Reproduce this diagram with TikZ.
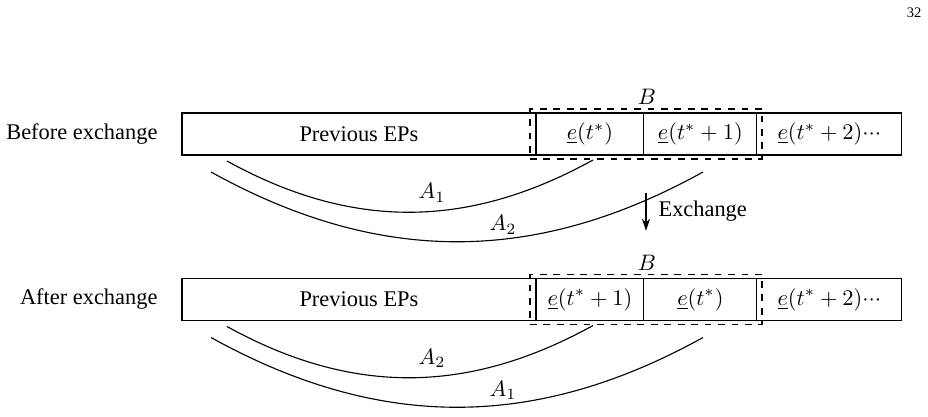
\documentclass[tikz,border=0pt]{standalone}
\usepackage{fontspec}
\setmainfont{Liberation Serif}
\usetikzlibrary{arrows.meta}
\newcommand{\tightdots}{{\cdot}{\cdot}{\cdot}}
\begin{document}
\begin{tikzpicture}[x=0.4464pt,y=-0.4464pt,line width=0.5pt,
  cell/.style={draw,minimum height=18.75pt,inner sep=0pt,outer sep=0pt,anchor=west},
  rowlabel/.style={anchor=east,inner sep=0pt},
  bbox/.style={draw,dashed,minimum width=103.6pt,minimum height=22.3pt,inner sep=0pt,outer sep=0pt},
  arclabel/.style={inner sep=0pt}]
\useasboundingbox (0,0) rectangle (928,416);
\node[anchor=east,inner sep=0pt,font=\fontsize{6.5}{7}\selectfont] (page) at (922,13) {32};
% ---- before exchange
\node[rowlabel] (lab1) at (158,134) {Before exchange};
\node[cell,minimum width=158.0pt] (p1) at (182,134) {Previous EPs};
\node[cell,minimum width=48.2pt] (a1) at (p1.east) {$\underline{e}(t^*)$};
\node[cell,minimum width=50.4pt] (b1) at (a1.east) {$\underline{e}(t^*+1)$};
\node[cell,minimum width=64.7pt] (c1) at (b1.east) {$\underline{e}(t^*+2)\tightdots$};
\node[bbox] (B1) at (646,134) {};
\node[inner sep=0pt] (Bl1) at (647,97) {$B$};
\coordinate (s11) at (227,161); \coordinate (e11) at (593,160);
\coordinate (s12) at (211,172); \coordinate (e12) at (703,172);
\draw (s11) .. controls (352,230) and (468,229) .. (e11);
\draw (s12) .. controls (379,265) and (535,265) .. (e12);
\node[arclabel] (A11) at (432,193) {$A_1$};
\node[arclabel] (A12) at (503,225) {$A_2$};
% ---- exchange arrow
\coordinate (x1) at (646,193); \coordinate (x2) at (646,231);
\draw[line width=0.8pt,-{Stealth[length=5.5pt,width=3.6pt]}] (x1) -- (x2);
\node[anchor=west,inner sep=0pt] (exl) at (658,211) {Exchange};
% ---- after exchange
\begin{scope}[yshift=-73.88pt]
\node[rowlabel] (lab2) at (158,134) {After exchange};
\node[cell,minimum width=158.0pt] (p2) at (182,134) {Previous EPs};
\node[cell,minimum width=48.2pt] (a2) at (p2.east) {$\underline{e}(t^*+1)$};
\node[cell,minimum width=50.4pt] (b2) at (a2.east) {$\underline{e}(t^*)$};
\node[cell,minimum width=64.7pt] (c2) at (b2.east) {$\underline{e}(t^*+2)\tightdots$};
\node[bbox] (B2) at (646,134) {};
\node[inner sep=0pt] (Bl2) at (647,97) {$B$};
\coordinate (s21) at (227,161); \coordinate (e21) at (593,160);
\coordinate (s22) at (211,172); \coordinate (e22) at (703,172);
\draw (s21) .. controls (352,230) and (468,229) .. (e21);
\draw (s22) .. controls (379,265) and (535,265) .. (e22);
\node[arclabel] (A21) at (432,193) {$A_2$};
\node[arclabel] (A22) at (503,225) {$A_1$};
\end{scope}
\end{tikzpicture}
\end{document}
